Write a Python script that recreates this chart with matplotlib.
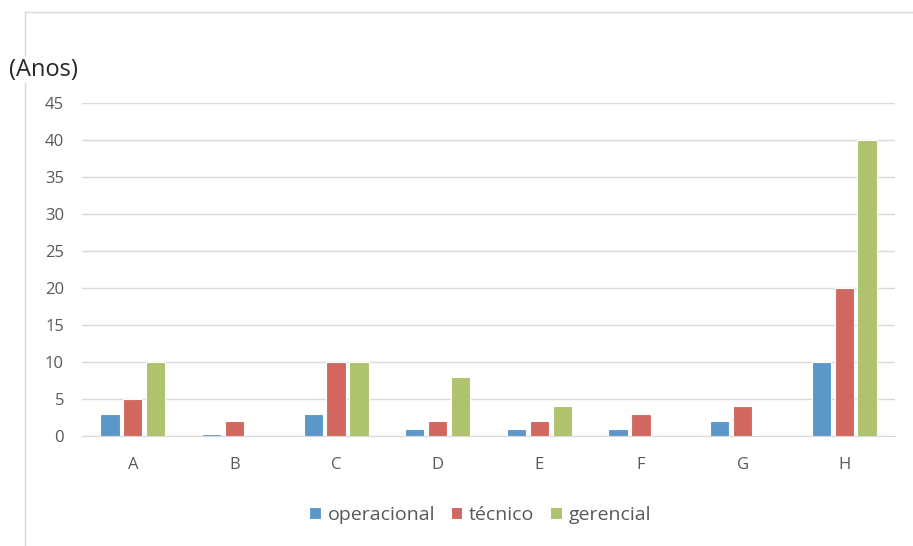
import numpy as np
from matplotlib import pyplot as plt
from matplotlib.lines import Line2D

categories = ['A', 'B', 'C', 'D', 'E', 'F', 'G', 'H']
operacional = [3, 0.3, 3, 1, 1, 1, 2, 10]
tecnico = [5, 2, 10, 2, 2, 3, 4, 20]
gerencial = [10, 0, 10, 8, 4, 0, 0, 40]
series_names = ['operacional', 'técnico', 'gerencial']
yticks = [0, 5, 10, 15, 20, 25, 30, 35, 40, 45]

colors = ['#5B97C8', '#D1675F', '#AFC26E']

plt.rcParams['font.family'] = ['Open Sans', 'DejaVu Sans']

W, H = 913, 546
fig = plt.figure(figsize=(W / 100, H / 100), dpi=100)
ax = fig.add_axes([82 / W, (H - 436) / H, 813 / W, (436 - 103) / H])

x = np.arange(len(categories))
width = 0.19
step = 0.225
for i, (vals, name) in enumerate(zip([operacional, tecnico, gerencial], series_names)):
    ax.bar(x + (i - 1) * step, vals, width, color=colors[i], label=name,
           edgecolor='white', linewidth=0.8, zorder=3)

ax.set_xlim(-0.5, len(categories) - 0.5)
ax.set_ylim(0, 45)
ax.set_yticks(yticks)
ax.set_xticks(x)
ax.set_xticklabels(categories)
ax.grid(axis='y', color='#D9D9D9', linewidth=1, zorder=0)
for s in ['top', 'right', 'left']:
    ax.spines[s].set_visible(False)
ax.spines['bottom'].set_color('#D9D9D9')
ax.tick_params(axis='both', length=0, colors='#595959', labelsize=12)
ax.tick_params(axis='y', pad=13)
ax.tick_params(axis='x', pad=15)

# chart frame
fig.add_artist(Line2D([25 / W, 25 / W], [0, 1 - 12 / H], color='#D9D9D9', lw=1))
fig.add_artist(Line2D([25 / W, 1], [1 - 12 / H, 1 - 12 / H], color='#D9D9D9', lw=1))

fig.text(9 / W, 1 - 70 / H, '(Anos)', fontsize=17, color='#262626', va='center', ha='left',
         bbox=dict(facecolor='white', edgecolor='none', pad=1))

fig.legend(loc='center', bbox_to_anchor=(480 / W, 1 - 515 / H), ncol=3, frameon=False,
           fontsize=14, labelcolor='#595959', handlelength=0.6, handleheight=0.6,
           handletextpad=0.35, columnspacing=0.8)

fig.savefig('out.png', dpi=100)
